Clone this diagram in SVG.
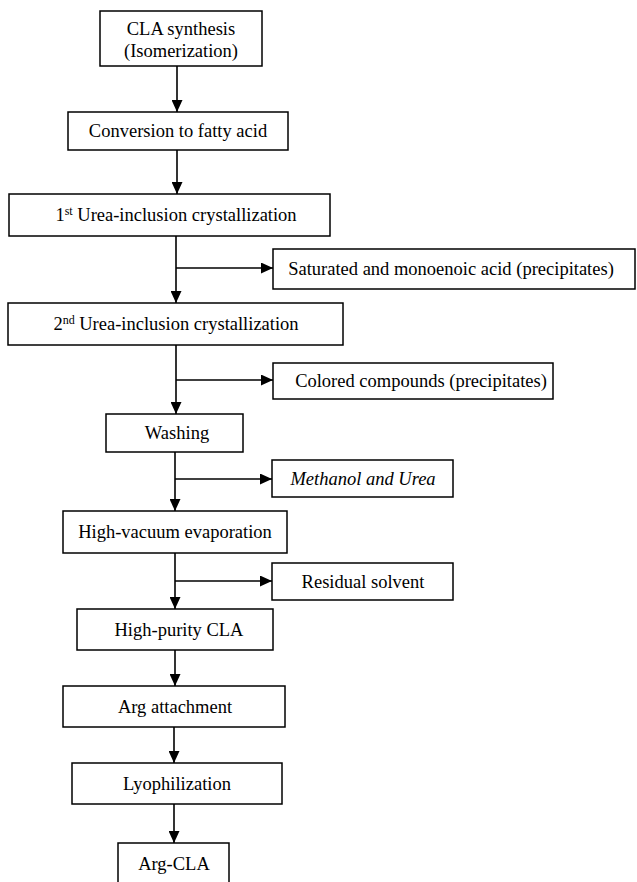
<svg xmlns="http://www.w3.org/2000/svg" width="637" height="882" viewBox="0 0 637 882">
<defs>
<marker id="ah" markerWidth="12" markerHeight="11" refX="12" refY="5.5" orient="auto" markerUnits="userSpaceOnUse">
<path d="M0,0 L12,5.5 L0,11 z" fill="#000"/>
</marker>
</defs>
<style>
rect{fill:#fff;stroke:#000;stroke-width:1.5}
text{font-family:"Liberation Serif","Times New Roman",serif;font-size:18.5px;fill:#000;text-anchor:middle}
.it{font-style:italic}
.sup{font-size:12px}
#connectors line{stroke:#000;stroke-width:1.6}
</style>
<rect x="0" y="0" width="637" height="882" style="fill:#fff;stroke:none"/>
<g id="connectors">
<line x1="177" y1="66" x2="177" y2="112" marker-end="url(#ah)"/>
<line x1="177" y1="150" x2="177" y2="194" marker-end="url(#ah)"/>
<line x1="176" y1="236" x2="176" y2="303" marker-end="url(#ah)"/>
<line x1="176" y1="268" x2="273" y2="268" marker-end="url(#ah)"/>
<line x1="176" y1="345" x2="176" y2="414" marker-end="url(#ah)"/>
<line x1="176" y1="380" x2="273" y2="380" marker-end="url(#ah)"/>
<line x1="175" y1="452" x2="175" y2="511" marker-end="url(#ah)"/>
<line x1="175" y1="479" x2="272" y2="479" marker-end="url(#ah)"/>
<line x1="175" y1="553" x2="175" y2="609" marker-end="url(#ah)"/>
<line x1="175" y1="581" x2="272" y2="581" marker-end="url(#ah)"/>
<line x1="175" y1="650" x2="175" y2="686" marker-end="url(#ah)"/>
<line x1="174" y1="727" x2="174" y2="763" marker-end="url(#ah)"/>
<line x1="174" y1="804" x2="174" y2="843" marker-end="url(#ah)"/>
</g>
<g id="n1"><rect x="100" y="11" width="162" height="55"/><text x="181" y="35">CLA synthesis</text><text x="181" y="57">(Isomerization)</text></g>
<g id="n2"><rect x="68" y="112" width="220" height="38"/><text x="178" y="137">Conversion to fatty acid</text></g>
<g id="n3"><rect x="9" y="194" width="321" height="42"/><text x="176" y="221">1<tspan class="sup" dy="-6">st</tspan><tspan dy="6"> Urea-inclusion crystallization</tspan></text></g>
<g id="n4"><rect x="8" y="303" width="335" height="42"/><text x="176" y="330">2<tspan class="sup" dy="-6">nd</tspan><tspan dy="6"> Urea-inclusion crystallization</tspan></text></g>
<g id="n5"><rect x="273" y="249" width="362" height="40"/><text x="451" y="275">Saturated and monoenoic acid (precipitates)</text></g>
<g id="n6"><rect x="273" y="363" width="280" height="36"/><text x="421" y="387">Colored compounds (precipitates)</text></g>
<g id="n7"><rect x="106" y="414" width="137" height="38"/><text x="177" y="439">Washing</text></g>
<g id="n8"><rect x="272" y="460" width="181" height="37"/><text class="it" x="363" y="485">Methanol and Urea</text></g>
<g id="n9"><rect x="63" y="511" width="224" height="42"/><text x="175" y="538">High-vacuum evaporation</text></g>
<g id="n10"><rect x="272" y="563" width="181" height="37"/><text x="363" y="588">Residual solvent</text></g>
<g id="n11"><rect x="77" y="609" width="196" height="41"/><text x="179" y="636">High-purity CLA</text></g>
<g id="n12"><rect x="63" y="686" width="222" height="41"/><text x="175" y="713">Arg attachment</text></g>
<g id="n13"><rect x="72" y="763" width="210" height="41"/><text x="177" y="790">Lyophilization</text></g>
<g id="n14"><rect x="118" y="843" width="111" height="45"/><text x="174" y="870">Arg-CLA</text></g>
</svg>
